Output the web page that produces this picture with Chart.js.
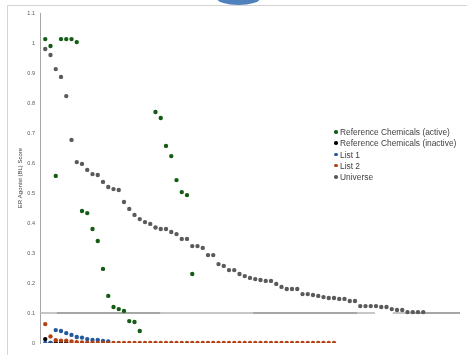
<!DOCTYPE html>
<html>
<head>
<meta charset="utf-8">
<script src="https://cdn.jsdelivr.net/npm/chart.js@4"></script>
<style>
  html, body { margin: 0; padding: 0; background: #fff; }
  #wrap { position: relative; width: 467px; height: 355px; overflow: hidden; }
  #frame { position: absolute; left: 7px; top: 5px; width: 520px; height: 420px; border: 1px solid #d4d4d4; }
  #tab { position: absolute; left: 217px; top: -8px; width: 43px; height: 13px; border-radius: 50%; background: #4f81bd; }
  canvas { position: absolute; left: 0; top: 0; }
  #legend { position: absolute; left: 334px; top: 127px; font: 8.4px "Liberation Sans", Arial, sans-serif; color: #404040; }
  .row { height: 11.25px; line-height: 11.25px; white-space: nowrap; }
  .dot { display: inline-block; width: 3.5px; height: 3.5px; border-radius: 50%; margin-right: 2.5px; vertical-align: middle; position: relative; top: -1px; }
</style>
</head>
<body>
<div id="wrap">
  <div id="frame"></div>
  <div id="tab"></div>
  <canvas id="chart" width="467" height="355"></canvas>
  <div id="legend"></div>
</div>
<script>
// 値はすべて順位（x = 0, 1, 2 ...）ごとのスコア
const yTitle = "ER Agonist (BL) Score";
const yTickValues = [0, 0.1, 0.2, 0.3, 0.4, 0.5, 0.6, 0.7, 0.8, 0.9, 1, 1.1];
const yTickLabels = ["0", "0.1", "0.2", "0.3", "0.4", "0.5", "0.6", "0.7", "0.8", "0.9", "1", "1.1"];

const seriesNames = ["Reference Chemicals (active)", "Reference Chemicals (inactive)", "List 1", "List 2", "Universe"];
const seriesColors = ["#145c14", "#000000", "#23589e", "#b5400f", "#5a5a5a"];

const refActive = [1.013, 0.99, 0.557, 1.013, 1.013, 1.013, 1.003, 0.44, 0.433, 0.38,
  0.34, 0.247, 0.157, 0.12, 0.113, 0.107, 0.073, 0.07, 0.04, null,
  null, 0.77, 0.75, 0.657, 0.623, 0.543, 0.503, 0.493, 0.23];
const refInactive = [0.013, 0, 0, 0, 0];
const list1 = [0, 0, 0.043, 0.04, 0.033, 0.027, 0.02, 0.018, 0.013, 0.01, 0.01, 0.007, 0.005];
const list2 = [0.063, 0.022, 0.009, 0.008, 0.008, 0.005, 0.003, 0.002, 0.001, 0.001,
  0, 0, 0, 0, 0, 0, 0, 0, 0, 0, 0, 0, 0, 0, 0, 0, 0, 0, 0, 0,
  0, 0, 0, 0, 0, 0, 0, 0, 0, 0, 0, 0, 0, 0, 0, 0, 0, 0, 0, 0,
  0, 0, 0, 0, 0, 0];
const universe = [0.98, 0.96, 0.913, 0.887, 0.823, 0.677, 0.603, 0.597, 0.577, 0.563,
  0.56, 0.537, 0.52, 0.513, 0.51, 0.47, 0.447, 0.427, 0.413, 0.403,
  0.397, 0.385, 0.38, 0.38, 0.37, 0.363, 0.347, 0.347, 0.323, 0.323,
  0.317, 0.293, 0.293, 0.263, 0.257, 0.243, 0.243, 0.23, 0.223, 0.217,
  0.213, 0.21, 0.207, 0.207, 0.197, 0.187, 0.18, 0.18, 0.18, 0.163,
  0.163, 0.16, 0.157, 0.153, 0.15, 0.15, 0.147, 0.147, 0.14, 0.14,
  0.123, 0.123, 0.123, 0.123, 0.12, 0.12, 0.113, 0.11, 0.11, 0.103,
  0.103, 0.103, 0.103];

// しきい値ライン (0.1) ― 薄い線と濃い線の区間 (x は順位の単位)
const thresholdValue = 0.1;
const thresholdLight = [[-1, 62.8], [66.2, 79]];
const thresholdDark = [[2.2, 21.9], [39.6, 59.4], [69.9, 79]];

const toPoints = (arr) => arr.map((v, i) => ({ x: i, y: v }));
const toSegments = (ranges) => {
  const pts = [];
  ranges.forEach(([a, b], i) => {
    if (i > 0) pts.push({ x: (pts[pts.length - 1].x + a) / 2, y: null });
    pts.push({ x: a, y: thresholdValue }, { x: b, y: thresholdValue });
  });
  return pts;
};

const allSeries = [refActive, refInactive, list1, list2, universe];
const scatterSets = allSeries.map((arr, i) => ({
  label: seriesNames[i],
  data: toPoints(arr),
  backgroundColor: seriesColors[i],
  borderColor: seriesColors[i],
  borderWidth: 0,
  pointRadius: 2.2,
  showLine: false,
  order: 5 - i,
}));

const lineSet = (ranges, color) => ({
  label: "threshold",
  data: toSegments(ranges),
  showLine: true,
  spanGaps: false,
  borderColor: color,
  borderWidth: 1.3,
  pointRadius: 0,
  order: 10,
});

const family = '"Liberation Sans", Arial, sans-serif';

new Chart(document.getElementById("chart").getContext("2d"), {
  type: "scatter",
  data: {
    datasets: [...scatterSets, lineSet(thresholdLight, "#b4b4b4"), lineSet(thresholdDark, "#555555")],
  },
  options: {
    responsive: false,
    animation: false,
    layout: { padding: { left: 17, top: 13, right: 7, bottom: 12 } },
    plugins: { legend: { display: false }, tooltip: { enabled: false } },
    scales: {
      x: { type: "linear", min: -1, max: 79, display: false },
      y: {
        min: 0,
        max: 1.1,
        afterBuildTicks: (s) => { s.ticks = yTickValues.map((v) => ({ value: v })); },
        afterFit: (s) => { s.width = 23; },
        grid: { display: false, drawTicks: false },
        border: { display: true, color: "#a6a6a6", width: 1 },
        ticks: {
          padding: 5,
          color: "#595959",
          font: { size: 5.5, family },
          callback: (v, i) => yTickLabels[i],
        },
        title: {
          display: true,
          text: yTitle,
          color: "#404040",
          font: { size: 6, family },
          padding: { top: 0, bottom: 0 },
        },
      },
    },
  },
});

// 凡例（HTML）
const legendEl = document.getElementById("legend");
seriesNames.forEach((name, i) => {
  const row = document.createElement("div");
  row.className = "row";
  row.innerHTML = `<span class="dot" style="background:${seriesColors[i]}"></span>${name}`;
  legendEl.appendChild(row);
});
</script>
</body>
</html>
